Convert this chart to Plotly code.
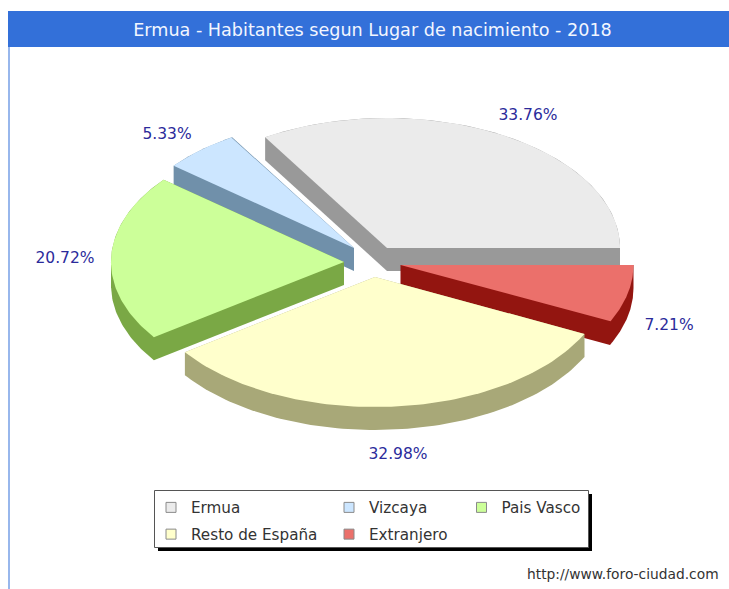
import numpy as np
import plotly.graph_objects as go

# ---- data ----
categories = ["Ermua", "Vizcaya", "Pais Vasco", "Resto de España", "Extranjero"]
percentages = [33.76, 5.33, 20.72, 32.98, 7.21]
title_text = "Ermua - Habitantes segun Lugar de nacimiento - 2018"
source_text = "http://www.foro-ciudad.com"

# ---- styling / geometry ----
W, H = 729, 589
top_colors = ["#ebebeb", "#cce6ff", "#ccff99", "#ffffcc", "#eb706b"]
side_colors = ["#999999", "#7090aa", "#7aa845", "#a8a878", "#931510"]
apex = [(387, 248), (354, 248), (344, 262), (375, 277), (400.5, 265)]
label_pos = [(528, 116), (167, 135), (65, 259), (398, 455), (669, 326)]
draw_order = [0, 1, 2, 4, 3]
RX, RY, DEPTH = 233, 130, 23
FONT = "DejaVu Sans"
LABEL_COLOR = "#2b2b9b"

shares = np.array(percentages) / sum(percentages) * 360.0
ends = np.cumsum(shares)
starts = ends - shares


def wedge(i):
    t = np.radians(np.linspace(starts[i], ends[i], 90))
    cx, cy = apex[i]
    xs = np.r_[cx, cx + RX * np.cos(t)]
    ys = np.r_[cy, cy - RY * np.sin(t)]
    return xs, ys


def hull(xs, ys):
    pts = sorted(set(zip(xs.tolist(), ys.tolist())))

    def half(points):
        out = []
        for p in points:
            while len(out) > 1 and (out[-1][0] - out[-2][0]) * (p[1] - out[-2][1]) - (
                out[-1][1] - out[-2][1]
            ) * (p[0] - out[-2][0]) <= 0:
                out.pop()
            out.append(p)
        return out[:-1]

    h = half(pts) + half(pts[::-1])
    h.append(h[0])
    return [p[0] for p in h], [p[1] for p in h]


fig = go.Figure()

for i in draw_order:
    xs, ys = wedge(i)
    hx, hy = hull(np.r_[xs, xs], np.r_[ys, ys + DEPTH])
    fig.add_trace(go.Scatter(x=hx, y=hy, mode="lines", fill="toself", fillcolor=side_colors[i],
                             line=dict(width=0, color=side_colors[i]), showlegend=False, hoverinfo="skip"))
    fig.add_trace(go.Scatter(x=xs.tolist() + [xs[0]], y=ys.tolist() + [ys[0]], mode="lines", fill="toself",
                             fillcolor=top_colors[i], line=dict(width=0, color=top_colors[i]),
                             showlegend=False, name=categories[i], text=f"{percentages[i]:.2f}%",
                             hoverinfo="name+text"))

# percentage labels
fig.add_trace(go.Scatter(x=[p[0] for p in label_pos], y=[p[1] for p in label_pos], mode="text",
                         text=[f"{v:.2f}%" for v in percentages],
                         textfont=dict(family=FONT, size=15.5, color=LABEL_COLOR),
                         showlegend=False, hoverinfo="skip"))

# legend columns (real legend entries, three legends for uneven column widths)
legend_of = ["legend", "legend2", "legend3", "legend", "legend2"]
for i, name in enumerate(categories):
    fig.add_trace(go.Scatter(x=[None], y=[None], mode="markers", name=name, legend=legend_of[i],
                             legendgroup=name,
                             marker=dict(symbol="square", size=10, color=top_colors[i],
                                         line=dict(width=1, color="#8a8a8a"))))

leg_base = dict(bgcolor="rgba(0,0,0,0)", borderwidth=0, xanchor="left", yanchor="top",
                tracegroupgap=4, font=dict(family=FONT, size=15.2, color="#333333"),
                itemclick=False, itemdoubleclick=False)
y_leg = 1 - 491 / H

shapes = [
    dict(type="rect", x0=8, x1=W, y0=11, y1=47, fillcolor="#3370d9", line_width=0, layer="below"),
    dict(type="rect", x0=8.5, x1=9.5, y0=47, y1=H, fillcolor="#3370d9", line_width=0, layer="below"),
    dict(type="rect", x0=158, x1=592, y0=494, y1=551, fillcolor="#000000", line_width=0, layer="below"),
    dict(type="rect", x0=154.5, x1=588.5, y0=490.5, y1=547.5, fillcolor="#ffffff",
         line=dict(color="#555555", width=1), layer="below"),
]
for s in shapes:
    s.update(xref="x", yref="y")

fig.update_layout(
    width=W, height=H, autosize=False,
    margin=dict(l=0, r=0, t=0, b=0, pad=0),
    paper_bgcolor="#ffffff", plot_bgcolor="#ffffff",
    xaxis=dict(range=[0, W], visible=False, fixedrange=True),
    yaxis=dict(range=[H, 0], visible=False, fixedrange=True),
    shapes=shapes,
    title=dict(text=title_text, x=372.5 / W, xanchor="center", y=1 - 30 / H, yanchor="middle",
               font=dict(family=FONT, size=17.6, color="#f2f6ff")),
    legend=dict(x=151 / W, y=y_leg, **leg_base),
    legend2=dict(x=329 / W, y=y_leg, **leg_base),
    legend3=dict(x=461.5 / W, y=y_leg, **leg_base),
    annotations=[dict(text=source_text, x=721, y=574, xref="x", yref="y", xanchor="right", yanchor="middle",
                      showarrow=False, font=dict(family=FONT, size=13.8, color="#333333"))],
)

fig.write_html("out.html", config=dict(displayModeBar=False),
               post_script="document.body.style.margin='0';document.documentElement.style.overflow='hidden';")
